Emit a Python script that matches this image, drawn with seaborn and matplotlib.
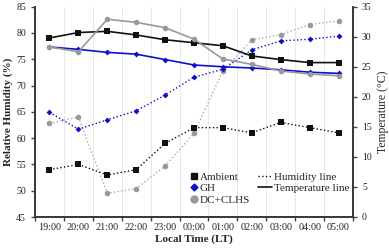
"""
Night-time relative humidity and temperature for the ambient air,
the greenhouse (GH) and the DC+CLHS system.
"""

import matplotlib
matplotlib.use('Agg')
import matplotlib.pyplot as plt
from matplotlib.lines import Line2D
import pandas as pd
import seaborn as sns

sns.set_theme(style='white')
plt.rcParams['font.family'] = ['Liberation Serif', 'DejaVu Serif']

# Data
times = ['19:00', '20:00', '21:00', '22:00', '23:00', '00:00',
         '01:00', '02:00', '03:00', '04:00', '05:00']
hum_ambient = [54, 55, 53, 54, 59, 62, 62, 61, 63, 62, 61]
hum_gh = [64.9, 61.7, 63.5, 65.2, 68.2, 71.6, 73.1, 76.8, 78.5, 78.8, 79.4]
hum_dc = [62.8, 64.0, 49.5, 50.4, 54.7, 60.9, 72.8, 78.7, 79.7, 81.6, 82.3]
temp_ambient = [29.8, 30.7, 30.9, 30.3, 29.5, 29.0, 28.5, 26.8, 26.2, 25.7, 25.7]
temp_gh = [28.3, 27.9, 27.4, 27.1, 26.2, 25.3, 25.0, 24.8, 24.5, 24.1, 23.9]
temp_dc = [28.3, 27.5, 32.9, 32.4, 31.5, 29.6, 26.3, 25.4, 24.3, 23.8, 23.5]

df = pd.DataFrame({'time': times,
                   'hum_ambient': hum_ambient, 'hum_gh': hum_gh,
                   'hum_dc': hum_dc, 'temp_ambient': temp_ambient,
                   'temp_gh': temp_gh, 'temp_dc': temp_dc})

BLACK = '#111111'
BLUE = '#1010c8'
GREY = '#999999'
LGREY = '#aaaaaa'

fig = plt.figure(figsize=(3.89, 2.49), dpi=100)
ax = fig.add_axes([35 / 389, 1 - 217 / 249, 318 / 389, 210.3 / 249])
ax2 = ax.twinx()

# Humidity (dotted, left axis)
sns.lineplot(data=df, x='time', y='hum_dc', ax=ax, sort=False,
             color=LGREY, linestyle=':', linewidth=1.0, marker='o',
             markersize=4, markerfacecolor=GREY, markeredgewidth=0,
             legend=False)
sns.lineplot(data=df, x='time', y='hum_ambient', ax=ax, sort=False,
             color=BLACK, linestyle=':', linewidth=1.0, marker='s',
             markersize=4, markeredgewidth=0, legend=False)
sns.lineplot(data=df, x='time', y='hum_gh', ax=ax, sort=False,
             color=BLUE, linestyle=':', linewidth=1.0, marker='D',
             markersize=3, markeredgewidth=0, legend=False)

# Temperature (solid, right axis)
sns.lineplot(data=df, x='time', y='temp_ambient', ax=ax2, sort=False,
             color=BLACK, linewidth=1.2, marker='s', markersize=4,
             markeredgewidth=0, legend=False)
sns.lineplot(data=df, x='time', y='temp_gh', ax=ax2, sort=False,
             color=BLUE, linewidth=1.2, marker='D', markersize=3,
             markeredgewidth=0, legend=False)
sns.lineplot(data=df, x='time', y='temp_dc', ax=ax2, sort=False,
             color=GREY, linewidth=1.2, marker='o', markersize=4,
             markeredgewidth=0, legend=False)

# Axes limits and ticks
ax.set_xlim(-0.5, len(times) - 0.5)
ax.set_ylim(45, 85)
ax2.set_ylim(0, 35)
ax.set_yticks(range(45, 86, 5))
ax2.set_yticks(range(0, 36, 5))

ax.set_xticks(range(len(times)))
ax.set_xticklabels(times)
ax.set_xticks([i - 0.5 for i in range(len(times) + 1)], minor=True)
ax.tick_params(axis='x', which='major', length=0, labelsize=7.3, pad=4,
               colors='#222222')
ax.tick_params(axis='x', which='minor', length=3, width=1, color='#444444',
               direction='out', bottom=True)
ax.tick_params(axis='y', length=3, width=1, color='#444444', labelsize=7,
               labelcolor='#222222', direction='out', left=True)
ax2.tick_params(axis='y', length=3, width=1, color='#444444', labelsize=7,
                labelcolor='#222222', direction='out', right=True)

ax.grid(False)
ax2.grid(False)
ax.xaxis.grid(True, which='minor', color='#e4e4e4', linewidth=0.6)

for a in (ax, ax2):
    a.spines['top'].set_visible(False)
    for s in ('left', 'right', 'bottom'):
        a.spines[s].set_color('#3a3a3a')
        a.spines[s].set_linewidth(1.3)

ax.set_xlabel('Local Time (LT)', fontsize=8, fontweight='bold', labelpad=2)
ax.set_ylabel('Relative Humidity (%)', fontsize=8, fontweight='bold',
              labelpad=2)
ax2.set_ylabel('Temperature (°C)', fontsize=8.5, labelpad=4)

# Legends: markers column and line-style column
marker_handles = [
    Line2D([], [], color=BLACK, marker='s', linestyle='none', markersize=5),
    Line2D([], [], color=BLUE, marker='D', linestyle='none', markersize=3.5),
    Line2D([], [], color=GREY, marker='o', linestyle='none', markersize=5),
]
line_handles = [
    Line2D([], [], color=BLACK, linestyle=':', linewidth=1.0),
    Line2D([], [], color=BLACK, linestyle='-', linewidth=1.2),
]
leg1 = ax2.legend(marker_handles, ['Ambient', 'GH', 'DC+CLHS'],
                  loc='upper left', bbox_to_anchor=(191 / 389, 1 - 172 / 249),
                  bbox_transform=fig.transFigure, frameon=False,
                  fontsize=8, handlelength=0.6, handletextpad=0.2,
                  labelspacing=0.15, borderpad=0, borderaxespad=0)
ax2.add_artist(leg1)
ax2.legend(line_handles, ['Humidity line', 'Temperature line'],
           loc='upper left', bbox_to_anchor=(258 / 389, 1 - 172 / 249),
           bbox_transform=fig.transFigure, frameon=False,
           fontsize=8, handlelength=1.3, handletextpad=0.15,
           labelspacing=0.15, borderpad=0, borderaxespad=0)

fig.savefig('out.png', dpi=100)
